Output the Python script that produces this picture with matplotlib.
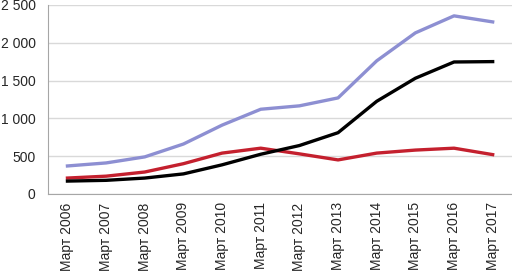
import matplotlib
matplotlib.use("Agg")
import matplotlib.pyplot as plt
from matplotlib.ticker import FuncFormatter

# data
years = [2006, 2007, 2008, 2009, 2010, 2011, 2012, 2013, 2014, 2015, 2016, 2017]
labels = ["Март %d" % y for y in years]
blue_vals = [370, 410, 490, 660, 910, 1120, 1165, 1270, 1760, 2130, 2355, 2275]
black_vals = [170, 180, 210, 265, 385, 525, 640, 810, 1225, 1530, 1745, 1750]
red_vals = [210, 235, 290, 400, 540, 605, 530, 450, 540, 580, 605, 520]

plt.rcParams['font.family'] = ['Liberation Sans', 'DejaVu Sans']

fig = plt.figure(figsize=(5.12, 2.72), dpi=100)
ax = fig.add_axes([0.094, 0.287, 0.906, 0.695])

x = list(range(len(years)))
ax.plot(x, blue_vals, color="#8d8fd2", lw=2.4)
ax.plot(x, red_vals, color="#c4202e", lw=2.4)
ax.plot(x, black_vals, color="black", lw=2.4)

ax.set_xlim(-0.5, len(years) - 0.5)
ax.set_ylim(0, 2500)
ax.set_yticks(range(0, 2501, 500))
ax.yaxis.set_major_formatter(FuncFormatter(lambda v, p: "{:,}".format(int(v)).replace(",", " ")))
ax.set_xticks(x)
ax.set_xticklabels(labels, rotation=90)
ax.tick_params(length=0, labelsize=10, colors="#262626", pad=6)
ax.tick_params(axis="y", pad=9)
ax.grid(axis="y", color="#d9d9d9", lw=1)
ax.set_axisbelow(True)
for s in ["top", "right"]:
    ax.spines[s].set_visible(False)
ax.spines["left"].set_color("#a6a6a6")
ax.spines["bottom"].set_color("#a6a6a6")

plt.savefig("out.png", dpi=100)
plt.close()
